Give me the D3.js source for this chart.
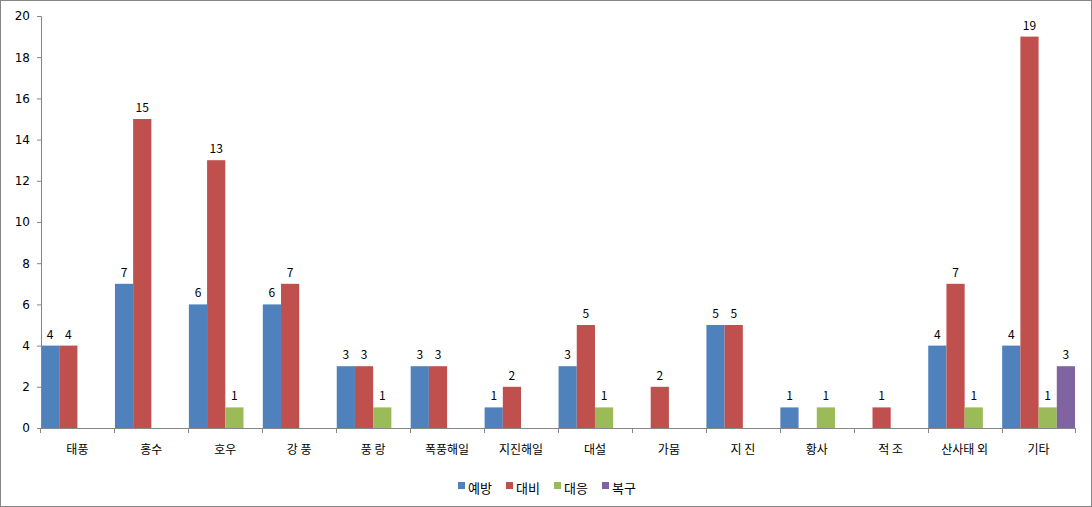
<!DOCTYPE html>
<html><head><meta charset="utf-8">
<script src="https://cdn.jsdelivr.net/npm/d3@7"></script>
<style>body{margin:0;background:#fff}svg{display:block;font-family:"Noto Sans CJK KR","DejaVu Sans",sans-serif}</style>
</head><body><svg id="c" width="1092" height="507"></svg>
<script>
const categories = ["태풍","홍수","호우","강 풍","풍 랑","폭풍해일","지진해일","대설","가뭄","지 진","황사","적 조","산사태 외","기타"];
const seriesNames = ["예방","대비","대응","복구"];
const colors = ["#4F81BD","#C0504D","#9BBB59","#8064A2"];
const prevent = [4,7,6,6,3,3,1,3,0,5,1,0,4,4];
const prepare = [4,15,13,7,3,3,2,5,2,5,0,1,7,19];
const respond = [0,0,1,0,1,0,0,1,0,0,1,0,1,1];
const recover = [0,0,0,0,0,0,0,0,0,0,0,0,0,3];
const yTicks = [0,2,4,6,8,10,12,14,16,18,20];
const seriesValues = [prevent, prepare, respond, recover];

const svg = d3.select("#c");
svg.append("rect").attr("x",0.5).attr("y",0.5).attr("width",1091).attr("height",506).attr("fill","#fff").attr("stroke","#868686");

const pL = 41, pR = 1075, pT = 16, pB = 428;
const x = d3.scaleBand().domain(categories).range([pL, pR]).paddingInner(0.015).paddingOuter(0);
const xs = d3.scaleBand().domain(seriesNames).range([0, x.bandwidth()]);
const y = d3.scaleLinear().domain([0,20]).range([pB, pT]);

const g = svg.append("g");
seriesNames.forEach((s, si) => {
  categories.forEach((c, ci) => {
    const v = seriesValues[si][ci];
    if (!v) return;
    g.append("rect").attr("x", x(c) + xs(s)).attr("y", y(v)).attr("width", xs.bandwidth()).attr("height", y(0) - y(v)).attr("fill", colors[si]);
    g.append("text").attr("x", x(c) + xs(s) + xs.bandwidth()/2).attr("y", y(v) - 7).attr("text-anchor","middle").attr("font-size",12).attr("fill","#000").text(v);
  });
});

// y axis
const ya = svg.append("g").attr("transform",`translate(${pL},0)`).call(d3.axisLeft(y).tickValues(yTicks).tickSize(4).tickPadding(7));
ya.select(".domain").attr("stroke","#868686").attr("d",`M-4,${pT}.5H0.5V${pB}.5`);
ya.selectAll(".tick line").attr("stroke","#868686");
ya.selectAll("text").attr("font-size",12).attr("fill","#000").attr("font-family","'DejaVu Sans',sans-serif");

// x axis
const xa = svg.append("g").attr("transform",`translate(0,${pB})`);
xa.append("line").attr("x1",pL).attr("x2",pR).attr("y1",0.5).attr("y2",0.5).attr("stroke","#868686");
const bounds = categories.map(c => x(c) - x.step()*x.paddingInner()/2).concat([pR]);
bounds.forEach(b => xa.append("line").attr("x1",Math.round(b)+0.5).attr("x2",Math.round(b)+0.5).attr("y1",0).attr("y2",5).attr("stroke","#868686"));
categories.forEach(c => xa.append("text").attr("x", x(c) + x.bandwidth()/2).attr("y", 26).attr("text-anchor","middle").attr("font-size",12).attr("fill","#000").text(c));

// legend
const lg = svg.append("g").attr("transform","translate(458,488)");
let lx = 0;
seriesNames.forEach((s,i) => {
  lg.append("rect").attr("x",lx).attr("y",-6).attr("width",7).attr("height",7).attr("fill",colors[i]);
  lg.append("text").attr("x",lx+10).attr("y",5).attr("font-size",13).attr("fill","#000").text(s);
  lx += 48;
});
</script></body></html>
